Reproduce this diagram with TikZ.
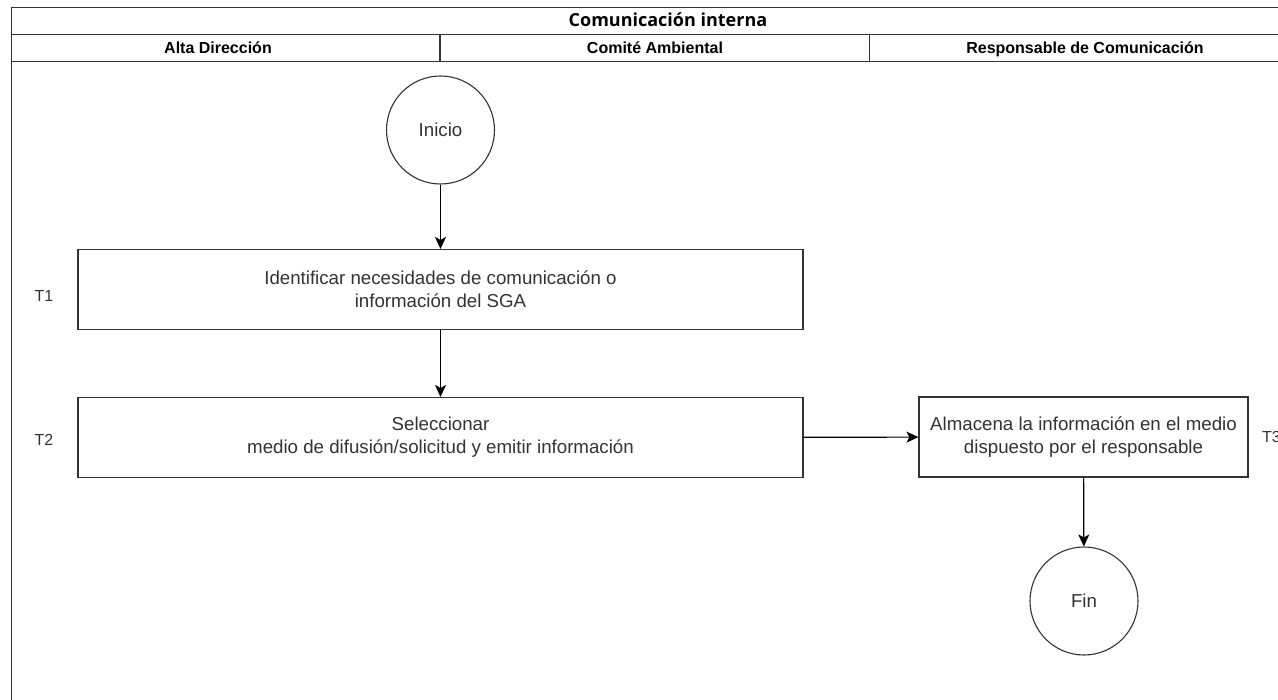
\documentclass[tikz,border=0pt]{standalone}
\usepackage{fontspec}
\setmainfont{Liberation Sans}
\newfontfamily\titlefont{Open Sans}
\usetikzlibrary{arrows.meta}
\definecolor{linec}{HTML}{333333}
\definecolor{textc}{HTML}{333333}
\tikzset{
  frameline/.style={draw=linec, line width=1.2pt},
  taskbox/.style={draw=linec, line width=1.1pt, rectangle, minimum width=725pt, minimum height=80pt, align=center, text=textc, font=\fontsize{18.7}{22.8}\selectfont, inner sep=0pt},
  taskboxs/.style={taskbox, minimum width=329pt},
  term/.style={draw=linec, line width=1.1pt, circle, minimum size=108pt, text=textc, font=\fontsize{18.7}{22.8}\selectfont, inner sep=0pt},
  tlabel/.style={text=textc, font=\fontsize{16}{19}\selectfont, inner sep=0pt},
  hdr/.style={font=\bfseries\fontsize{16}{19}\selectfont, inner sep=0pt, anchor=base},
  flow/.style={draw=black, line width=1.2pt, -{Stealth[length=12pt,width=11pt,inset=3pt]}},
}
\begin{document}
\begin{tikzpicture}[x=1pt,y=-1pt]
\useasboundingbox (0,0) rectangle (1278,700);
\fill[white] (0,0) rectangle (1278,700);
% frame
\draw[frameline] (1280,7.5) -- (11.5,7.5) -- (11.5,702);
\draw[frameline] (11.5,34.5) -- (1280,34.5);
\draw[frameline] (11.5,61.5) -- (1280,61.5);
\draw[frameline] (440,34.5) -- (440,61.5);
\draw[frameline] (869.5,34.5) -- (869.5,61.5);
\node[font=\titlefont\bfseries\fontsize{18}{21}\selectfont, inner sep=0pt, anchor=base] (title) at (668,27) {Comunicación interna};
\node[hdr] (h1) at (218,54) {Alta Dirección};
\node[hdr] (h2) at (655,54) {Comité Ambiental};
\node[hdr] (h3) at (1085,54) {Responsable de Comunicación};
% nodes
\node[term] (ini) at (440.5,130) {Inicio};
\node[taskbox] (t1) at (440.5,289.5) {Identificar necesidades de comunicación o\\ información del SGA};
\node[taskbox] (t2) at (440.5,437.5) {Seleccionar\\ medio de difusión/solicitud y emitir información};
\node[taskboxs] (t3) at (1083.5,437) {Almacena la información en el medio\\ dispuesto por el responsable};
\node[term] (fin) at (1084,601) {Fin};
\node[tlabel] (l1) at (44,296) {T1};
\node[tlabel] (l2) at (44,440) {T2};
\node[tlabel, anchor=west] (l3) at (1262,437) {T3};
% connectors
\draw[flow] (ini) -- (t1);
\draw[flow] (t1) -- (t2);
\draw[flow] (t2) -- (t3);
\draw[flow] (t3) -- (fin);
\end{tikzpicture}
\end{document}
